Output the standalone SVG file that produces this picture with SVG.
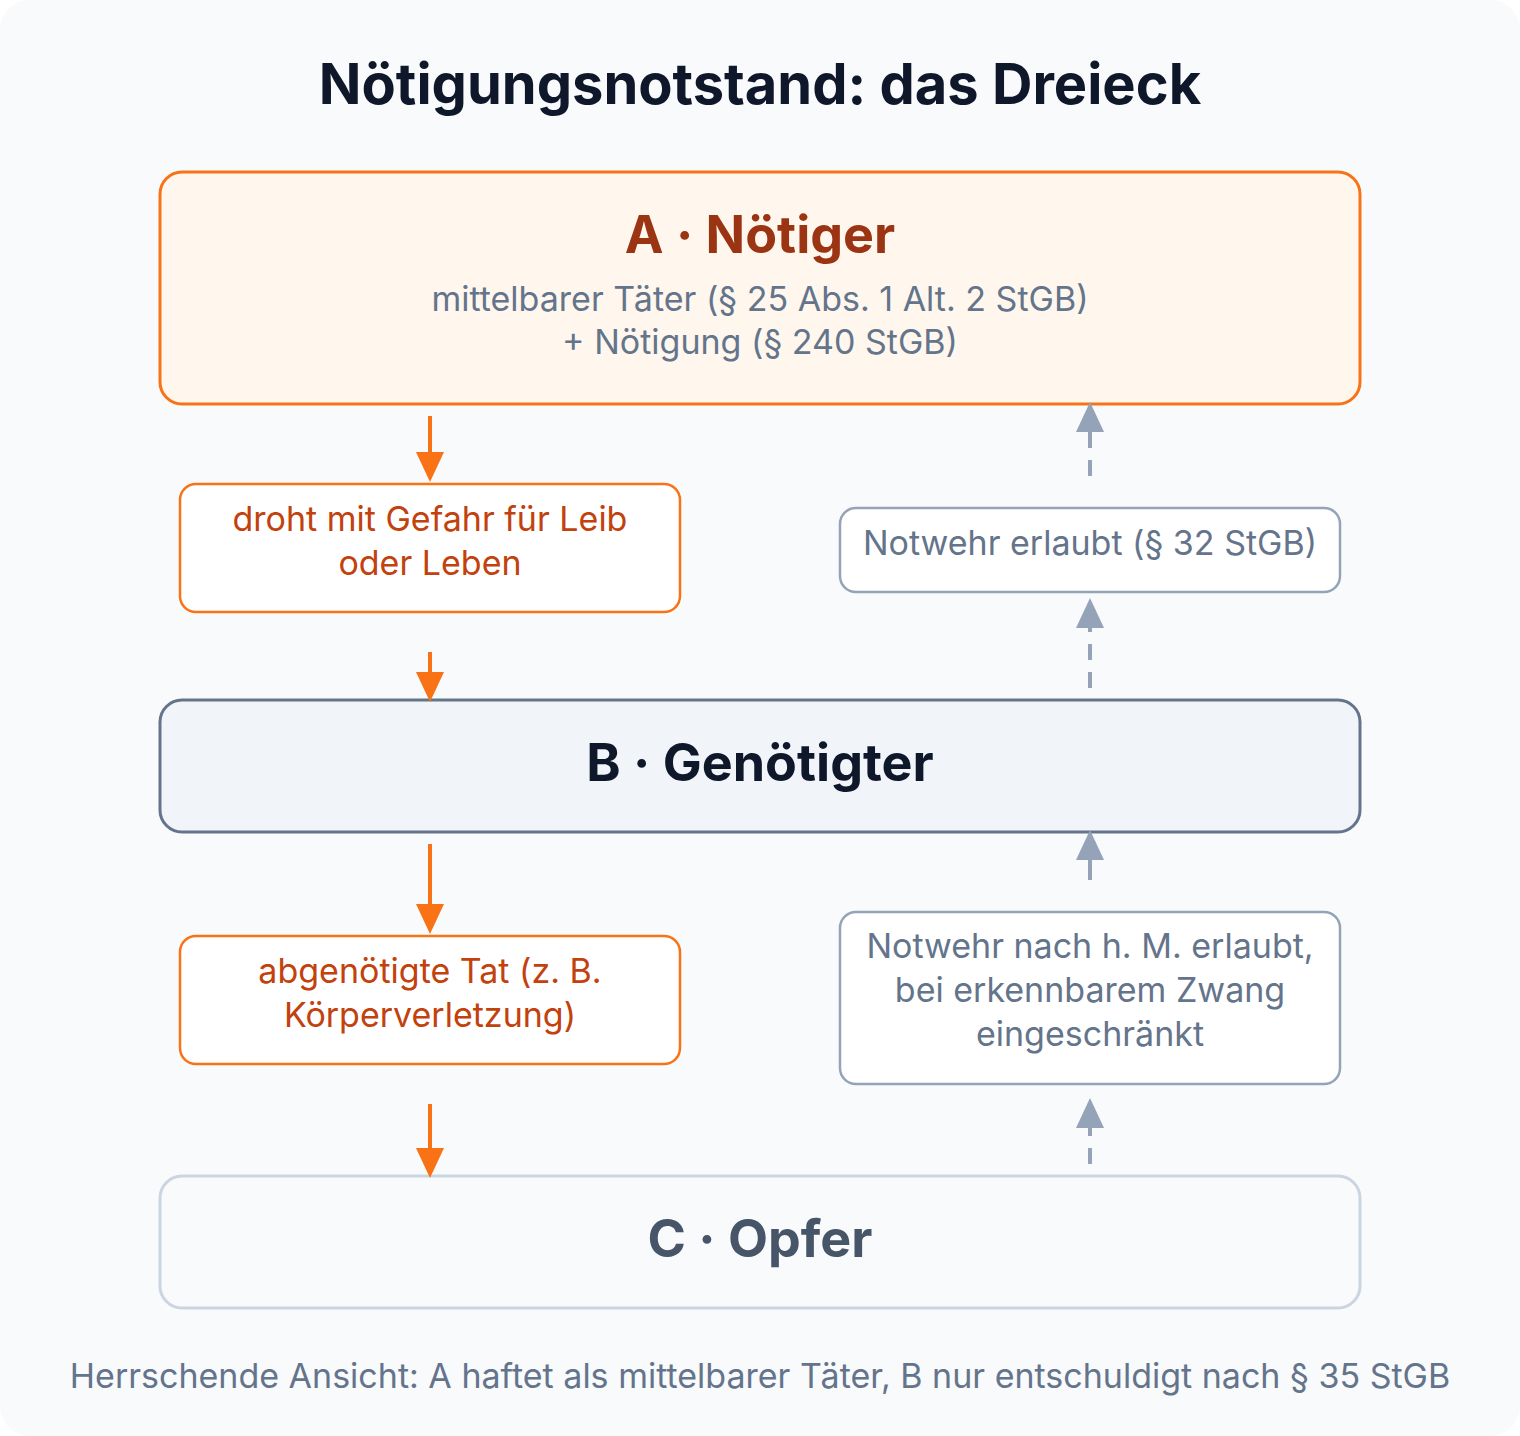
<svg xmlns="http://www.w3.org/2000/svg" width="1520" height="1436" viewBox="0 0 1520 1436">
<style>
text{font-family:Inter,"Liberation Sans",sans-serif;text-anchor:middle}
.h{font-size:52px;font-weight:700}
.s{font-size:34px;fill:#64748b}
.o{font-size:34px;fill:#c2410c}
.oa{stroke:#f97316;stroke-width:4;fill:none}
.ga{stroke:#94a3b8;stroke-width:4;fill:none;stroke-dasharray:16 12}
</style>
<rect x="0" y="0" width="1520" height="1436" rx="30" fill="#f8fafc"/>
<text x="760" y="104" style="font-size:56px;font-weight:700;fill:#0f172a">Nötigungsnotstand: das Dreieck</text>
<g id="A"><rect x="160" y="172" width="1200" height="232" rx="22" fill="#fff7ed" stroke="#f97316" stroke-width="3"/>
<text x="760" y="253" class="h" fill="#9a3412">A · Nötiger</text>
<text x="760" y="311" class="s">mittelbarer Täter (§ 25 Abs. 1 Alt. 2 StGB)</text>
<text x="760" y="354" class="s">+ Nötigung (§ 240 StGB)</text></g>
<g id="L1"><rect x="180" y="484" width="500" height="128" rx="16" fill="#fff" stroke="#f97316" stroke-width="2.5"/>
<text x="430" y="531" class="o">droht mit Gefahr für Leib</text><text x="430" y="575" class="o">oder Leben</text></g>
<g id="B"><rect x="160" y="700" width="1200" height="132" rx="22" fill="#f1f5f9" stroke="#64748b" stroke-width="3"/>
<text x="760" y="781" class="h" fill="#0f172a">B · Genötigter</text></g>
<g id="L2"><rect x="180" y="936" width="500" height="128" rx="16" fill="#fff" stroke="#f97316" stroke-width="2.5"/>
<text x="430" y="983" class="o">abgenötigte Tat (z. B.</text><text x="430" y="1027" class="o">Körperverletzung)</text></g>
<g id="C"><rect x="160" y="1176" width="1200" height="132" rx="22" fill="#f8fafc" stroke="#cbd5e1" stroke-width="3"/>
<text x="760" y="1257" class="h" fill="#475569">C · Opfer</text></g>
<g id="R1"><rect x="840" y="508" width="500" height="84" rx="16" fill="#fff" stroke="#94a3b8" stroke-width="2.5"/>
<text x="1090" y="555" class="s">Notwehr erlaubt (§ 32 StGB)</text></g>
<g id="R2"><rect x="840" y="912" width="500" height="172" rx="16" fill="#fff" stroke="#94a3b8" stroke-width="2.5"/>
<text x="1090" y="958" class="s">Notwehr nach h. M. erlaubt,</text><text x="1090" y="1002" class="s">bei erkennbarem Zwang</text><text x="1090" y="1046" class="s">eingeschränkt</text></g>
<g id="connectors">
<path d="M430,416 V452" class="oa"/><path d="M416,452 L444,452 L430,482 Z" fill="#f97316"/>
<path d="M430,652 V674" class="oa"/><path d="M416,672 L444,672 L430,702 Z" fill="#f97316"/>
<path d="M430,844 V906" class="oa"/><path d="M416,904 L444,904 L430,934 Z" fill="#f97316"/>
<path d="M430,1104 V1150" class="oa"/><path d="M416,1148 L444,1148 L430,1178 Z" fill="#f97316"/>
<path d="M1090,476 V430" class="ga"/><path d="M1076,432 L1104,432 L1090,402 Z" fill="#94a3b8"/>
<path d="M1090,688 V628" class="ga"/><path d="M1076,628 L1104,628 L1090,598 Z" fill="#94a3b8"/>
<path d="M1090,880 V860" class="ga" style="stroke-dasharray:none"/><path d="M1076,860 L1104,860 L1090,830 Z" fill="#94a3b8"/>
<path d="M1090,1164 V1128" class="ga"/><path d="M1076,1128 L1104,1128 L1090,1098 Z" fill="#94a3b8"/>
</g>
<text x="760" y="1388" class="s">Herrschende Ansicht: A haftet als mittelbarer Täter, B nur entschuldigt nach § 35 StGB</text>
</svg>
